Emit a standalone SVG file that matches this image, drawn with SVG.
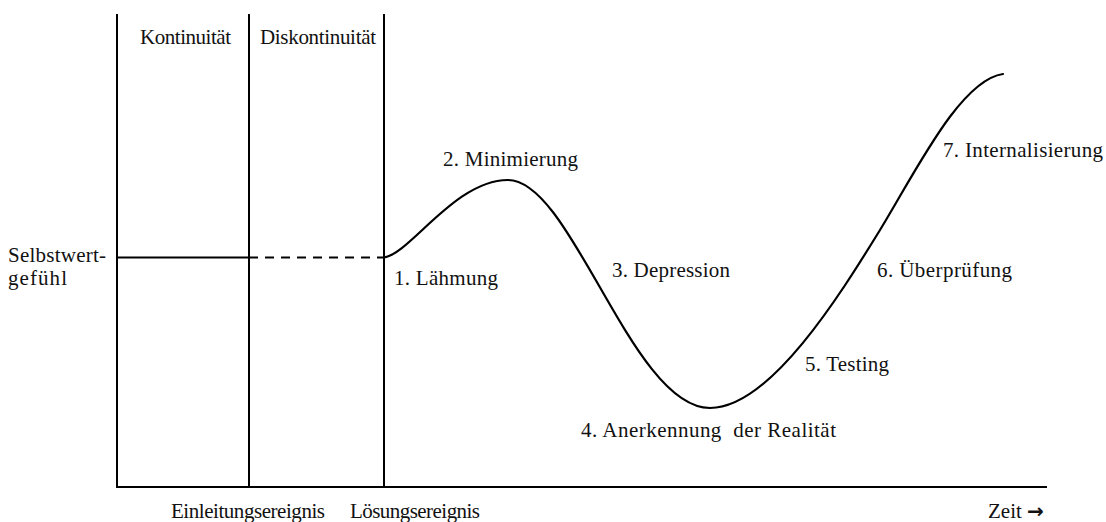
<svg xmlns="http://www.w3.org/2000/svg" width="1106" height="522" viewBox="0 0 1106 522">
<style>
text{font-family:"Liberation Serif","DejaVu Serif",serif;font-size:21px;fill:#111;}
.ax{stroke:#000;stroke-width:2;fill:none;}
.curve{stroke:#000;stroke-width:2.2;fill:none;stroke-linecap:round;}
.arr{font-family:"DejaVu Sans",sans-serif;font-weight:bold;font-size:20px;}
</style>
<rect width="1106" height="522" fill="#fff"/>
<g id="axes">
<line class="ax" x1="117" y1="14" x2="117" y2="487"/>
<line class="ax" x1="249" y1="14" x2="249" y2="487"/>
<line class="ax" x1="384" y1="14" x2="384" y2="487"/>
<line class="ax" x1="116" y1="487" x2="1047" y2="487"/>
</g>
<g id="connectors">
<line class="ax" x1="117" y1="257.5" x2="249" y2="257.5"/>
<line class="ax" x1="249" y1="257.5" x2="384" y2="257.5" stroke-dasharray="9,7"/>
<path class="curve" d="M384,257.5 C410,254 455,180 508,180 C572,180 632,408 710,408 C770,408 840,295 880,230 C915,173 960,80 1003,74"/>
</g>
<g id="labels">
<text x="140" y="44" textLength="91">Kontinuität</text>
<text x="260" y="44" textLength="116">Diskontinuität</text>
<text x="8" y="262" textLength="98">Selbstwert-</text>
<text x="8" y="285" textLength="59">gefühl</text>
<text x="394" y="285" textLength="104">1. Lähmung</text>
<text x="443" y="166" textLength="135">2. Minimierung</text>
<text x="612" y="277" textLength="118">3. Depression</text>
<text x="581" y="437" textLength="255" xml:space="preserve">4. Anerkennung  der Realität</text>
<text x="805" y="371" textLength="84">5. Testing</text>
<text x="877" y="277" textLength="135">6. Überprüfung</text>
<text x="943" y="157" textLength="160">7. Internalisierung</text>
<text x="171" y="518" textLength="154">Einleitungsereignis</text>
<text x="350" y="518" textLength="130">Lösungsereignis</text>
<text x="988" y="518">Zeit <tspan class="arr">→</tspan></text>
</g>
</svg>
